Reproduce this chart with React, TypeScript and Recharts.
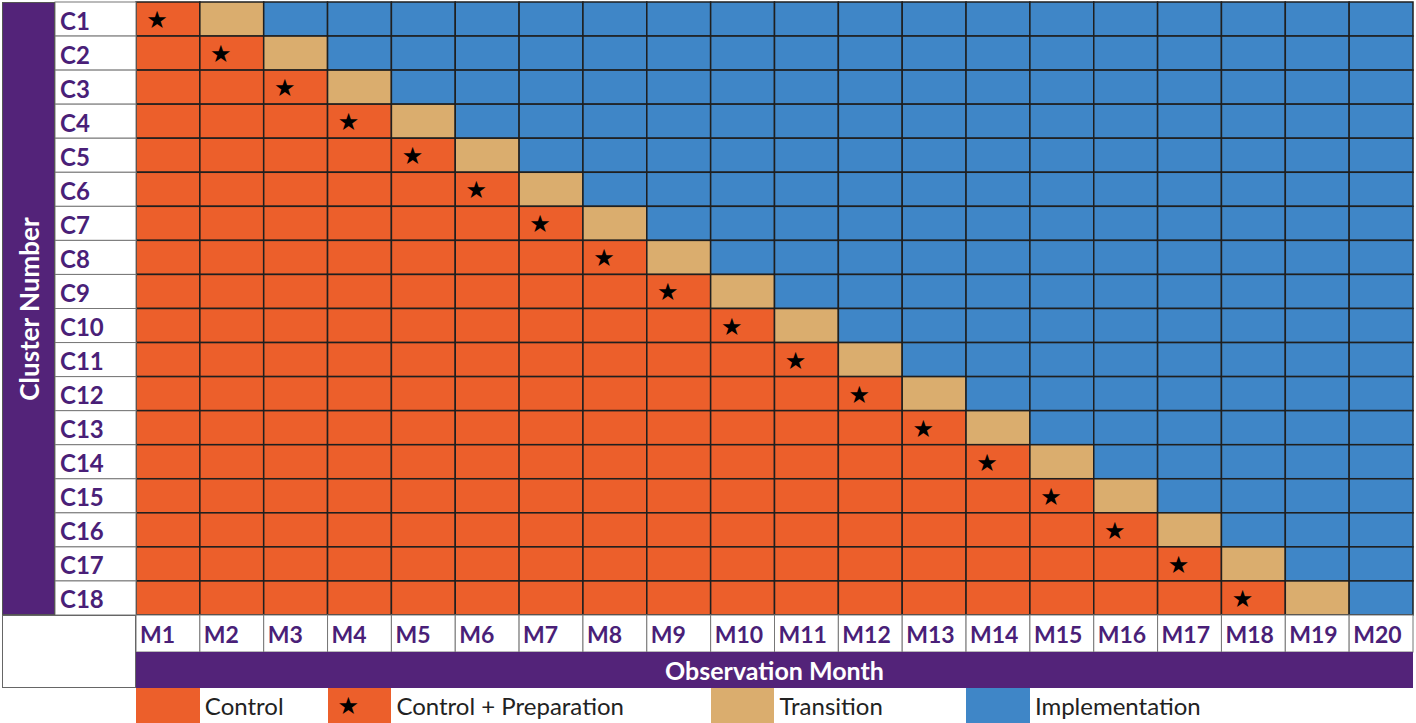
import { Bar, BarChart, XAxis, YAxis } from 'recharts'

const clusters = ['C1', 'C2', 'C3', 'C4', 'C5', 'C6', 'C7', 'C8', 'C9', 'C10', 'C11', 'C12', 'C13', 'C14', 'C15', 'C16', 'C17', 'C18']
const months = ['M1', 'M2', 'M3', 'M4', 'M5', 'M6', 'M7', 'M8', 'M9', 'M10', 'M11', 'M12', 'M13', 'M14', 'M15', 'M16', 'M17', 'M18', 'M19', 'M20']
// month (1-based) in which each cluster is in control + preparation, then transition
const preparationMonth = [1, 2, 3, 4, 5, 6, 7, 8, 9, 10, 11, 12, 13, 14, 15, 16, 17, 18]
const transitionMonth = [2, 3, 4, 5, 6, 7, 8, 9, 10, 11, 12, 13, 14, 15, 16, 17, 18, 19]
const legendLabels = ['Control', 'Control + Preparation', 'Transition', 'Implementation']

const ORANGE = '#EC5F2B'
const TAN = '#DAAD6E'
const BLUE = '#3F86C7'
const PURPLE = '#532379'
const TEXT_PURPLE = '#4A1F78'
const GRID = '#1f1f1f'
const FONT = 'Lato, "Open Sans", sans-serif'

const W = 1416
const H = 723
const PLOT_LEFT = 136
const PLOT_RIGHT = 1413
const PLOT_TOP = 2
const PLOT_BOTTOM = 615
const CELL_W = (PLOT_RIGHT - PLOT_LEFT) / months.length
const ROW_H = (PLOT_BOTTOM - PLOT_TOP) / clusters.length

const rows = clusters.map((c) => {
  const row: Record<string, string | number> = { cluster: c }
  months.forEach((m) => { row[m] = 1 })
  return row
})

function phaseColor(ci: number, month: number) {
  if (month <= preparationMonth[ci]) return ORANGE
  if (month === transitionMonth[ci]) return TAN
  return BLUE
}

function makeCell(month: number) {
  return (props: any) => {
    const { x, y, width, height, payload } = props
    const ci = clusters.indexOf(payload.cluster)
    const star = month === preparationMonth[ci]
    return (
      <g>
        <rect x={x} y={y} width={width} height={height} fill={phaseColor(ci, month)} stroke={GRID} strokeWidth={1.5} />
        {star && (
          <text x={x + 21} y={y + height / 2 + 1} fontSize={24} fontFamily="DejaVu Sans" textAnchor="middle" dominantBaseline="central" fill="#000">★</text>
        )}
      </g>
    )
  }
}

function ClusterTick(props: any) {
  const { y, payload } = props
  return (
    <g>
      <rect x={55} y={y - ROW_H / 2} width={PLOT_LEFT - 55} height={ROW_H} fill="#fff" stroke="#777" strokeWidth={1} />
      <text x={60} y={y + 1} fontSize={24} fontWeight={700} fontFamily={FONT} fill={TEXT_PURPLE} dominantBaseline="central">{payload.value}</text>
    </g>
  )
}

function MonthTick(props: any) {
  const { payload } = props
  const j = Math.round(payload.value - 0.5)
  const left = PLOT_LEFT + j * CELL_W
  return (
    <g>
      <rect x={left} y={PLOT_BOTTOM} width={CELL_W} height={37} fill="#fff" stroke="#777" strokeWidth={1} />
      <text x={left + 4} y={PLOT_BOTTOM + 19} fontSize={23} fontWeight={700} fontFamily={FONT} fill={TEXT_PURPLE} dominantBaseline="central">{months[j]}</text>
    </g>
  )
}

export default function App() {
  const legendCols = [0, 3, 9, 13]
  const legendFill = [ORANGE, ORANGE, TAN, BLUE]
  return (
    <div style={{ position: 'absolute', left: 0, top: 0, width: W, height: H, background: '#fff', fontFamily: FONT }}>
      <BarChart width={W} height={H} data={rows} layout="vertical" barCategoryGap={0}
        margin={{ top: PLOT_TOP, right: W - PLOT_RIGHT, left: 55, bottom: H - PLOT_BOTTOM - 37 }}>
        <XAxis type="number" domain={[0, months.length]} ticks={months.map((_, j) => j + 0.5)} interval={0}
          height={37} tickLine={false} axisLine={false} tickSize={0} tick={<MonthTick />} />
        <YAxis type="category" dataKey="cluster" width={PLOT_LEFT - 55} tickLine={false} axisLine={false}
          tickSize={0} interval={0} tick={<ClusterTick />} />
        {months.map((m, j) => (
          <Bar key={m} dataKey={m} stackId="a" isAnimationActive={false} shape={makeCell(j + 1)} />
        ))}
      </BarChart>

      <div style={{ position: 'absolute', left: 2, top: PLOT_TOP, width: 53, height: PLOT_BOTTOM - PLOT_TOP, background: PURPLE, boxSizing: 'border-box', border: '1px solid #555' }}>
        <div style={{ position: 'absolute', left: '50%', top: '50%', transform: 'translate(-50%, -50%) rotate(-90deg)', whiteSpace: 'nowrap', color: '#fff', fontWeight: 700, fontSize: 26 }}>
          Cluster Number
        </div>
      </div>
      <div style={{ position: 'absolute', left: 2, top: PLOT_BOTTOM, width: PLOT_LEFT - 2, height: 73, background: '#fff', boxSizing: 'border-box', border: '1px solid #666' }} />
      <div style={{ position: 'absolute', left: PLOT_LEFT, top: PLOT_BOTTOM + 37, width: PLOT_RIGHT - PLOT_LEFT, height: 36, background: PURPLE, color: '#fff', fontWeight: 700, fontSize: 25, display: 'flex', alignItems: 'center', justifyContent: 'center' }}>
        Observation Month
      </div>
      {legendLabels.map((label, k) => {
        const left = PLOT_LEFT + legendCols[k] * CELL_W
        return (
          <div key={label}>
            <div style={{ position: 'absolute', left, top: 688, width: CELL_W, height: 35, background: legendFill[k], display: 'flex', alignItems: 'center' }}>
              {k === 1 && <span style={{ marginLeft: 10, fontSize: 24, fontFamily: 'DejaVu Sans', color: '#000', lineHeight: 1 }}>★</span>}
            </div>
            <div style={{ position: 'absolute', left: left + CELL_W + 5, top: 688, height: 35, display: 'flex', alignItems: 'center', fontSize: 24, color: '#222' }}>
              {label}
            </div>
          </div>
        )
      })}
    </div>
  )
}
